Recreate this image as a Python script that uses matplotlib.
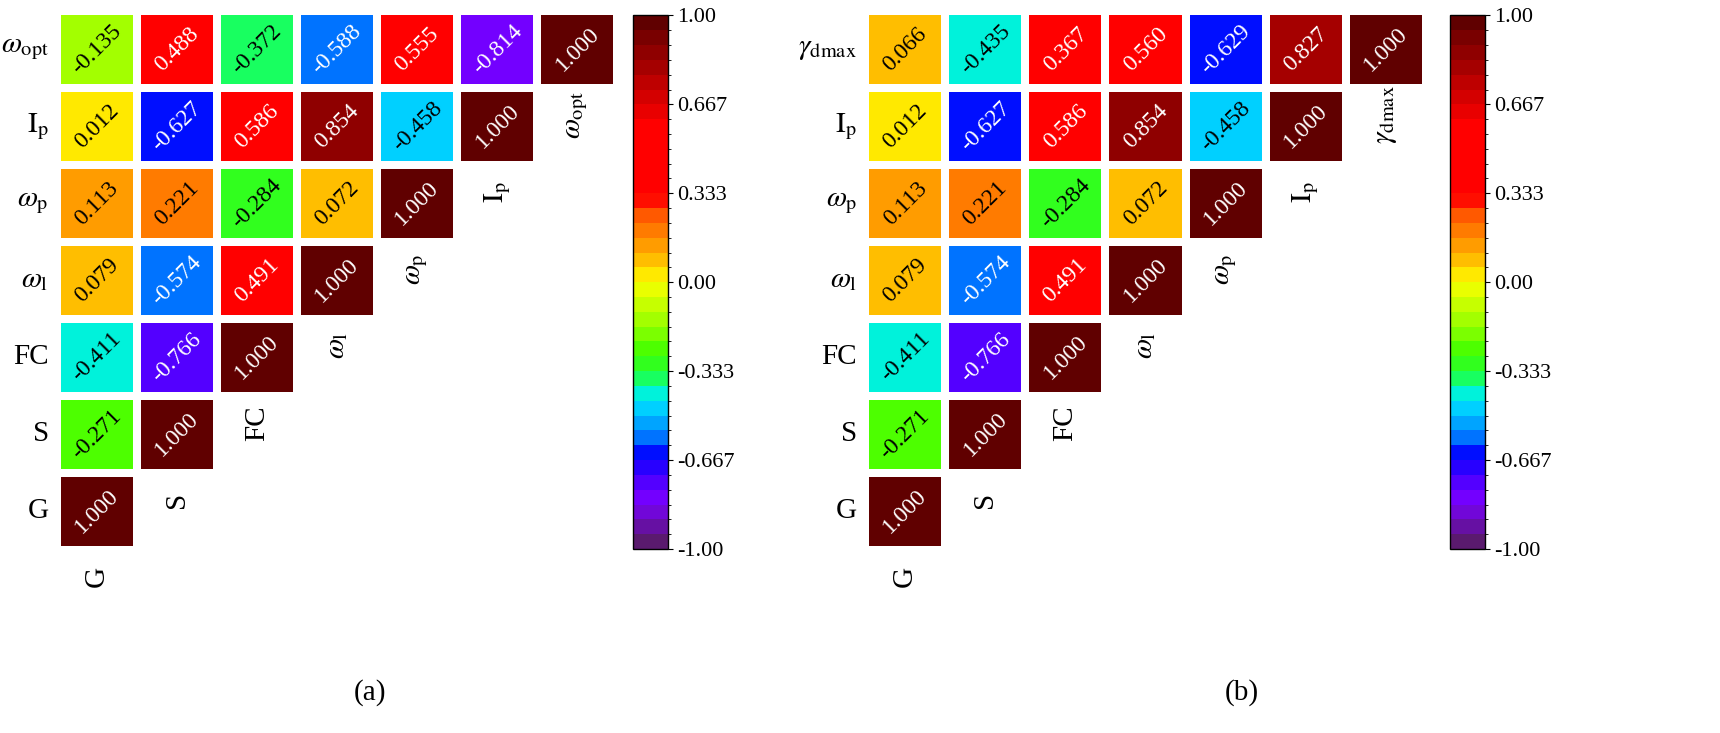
import matplotlib
matplotlib.use("Agg")
import matplotlib.pyplot as plt
import numpy as np
from matplotlib.colors import LinearSegmentedColormap, BoundaryNorm
from matplotlib.patches import Rectangle
from matplotlib.cm import ScalarMappable

plt.rcParams["font.family"] = ["Liberation Serif", "DejaVu Serif"]
plt.rcParams["mathtext.fontset"] = "stix"

labels_a = [r"$\omega_{\mathrm{opt}}$", r"$\mathrm{I_p}$", r"$\omega_{\mathrm{p}}$",
            r"$\omega_{\mathrm{l}}$", "FC", "S", "G"]
labels_b = [r"$\gamma_{\mathrm{dmax}}$", r"$\mathrm{I_p}$", r"$\omega_{\mathrm{p}}$",
            r"$\omega_{\mathrm{l}}$", "FC", "S", "G"]

common_rows = [
    [0.012, -0.627, 0.586, 0.854, -0.458, 1.000],
    [0.113, 0.221, -0.284, 0.072, 1.000],
    [0.079, -0.574, 0.491, 1.000],
    [-0.411, -0.766, 1.000],
    [-0.271, 1.000],
    [1.000],
]
top_a = [-0.135, 0.488, -0.372, -0.588, 0.555, -0.814, 1.000]
top_b = [0.066, -0.435, 0.367, 0.560, -0.629, 0.827, 1.000]

anchors = [
    (0.00, "#5a1a6e"), (0.075, "#7a00ff"), (0.117, "#5000ff"), (0.165, "#0000ff"),
    (0.19, "#0060ff"), (0.215, "#0090ff"), (0.265, "#00e0ff"), (0.295, "#00ffc0"),
    (0.32, "#20ff40"), (0.36, "#40ff00"), (0.425, "#a0ff00"),
    (0.50, "#ffff00"), (0.55, "#ffb000"), (0.625, "#ff6000"), (0.66, "#ff0000"),
    (0.80, "#ff0000"), (0.90, "#b00000"), (1.00, "#600000"),
]
cmap = LinearSegmentedColormap.from_list("corr", anchors)
bounds = np.linspace(-1, 1, 37)
norm = BoundaryNorm(bounds, cmap.N)

fig = plt.figure(figsize=(17.2, 7.33), dpi=100)


def panel(left, cb_left, labels, top_row, caption, cap_x):
    ax = fig.add_axes([left, 0.25, 0.326, 0.735])
    rows = [top_row] + common_rows
    n = len(labels)
    for i, row in enumerate(rows):
        for j, v in enumerate(row):
            ax.add_patch(Rectangle((j - 0.45, i - 0.45), 0.9, 0.9,
                                   facecolor=cmap(norm(v)), edgecolor="none"))
            tc = "white" if (v > 0.3 or v < -0.5) else "black"
            ax.text(j, i, f"{v:.3f}", ha="center", va="center", rotation=45,
                    fontsize=17, color=tc)
        ax.text(-0.6, i, labels[i], ha="right", va="center", fontsize=21)
        ax.text(n - 1 - i, i + 0.85, labels[i], ha="center", va="center",
                rotation=90, fontsize=21, clip_on=False)
    ax.set_xlim(-0.5, n - 0.5)
    ax.set_ylim(n - 0.5, -0.5)
    ax.axis("off")
    fig.text(cap_x, 0.055, caption, ha="center", va="center", fontsize=21)

    cax = fig.add_axes([cb_left, 0.251, 0.0203, 0.728])
    cb = fig.colorbar(ScalarMappable(norm=norm, cmap=cmap), cax=cax,
                      ticks=[-1, -0.667, -0.333, 0, 0.333, 0.667, 1])
    cb.ax.set_yticklabels(["-1.00", "-0.667", "-0.333", "0.00", "0.333", "0.667", "1.00"])
    cb.ax.tick_params(labelsize=16)
    cb.outline.set_linewidth(1)


panel(0.033, 0.368, labels_a, top_a, "(a)", 0.215)
panel(0.503, 0.843, labels_b, top_b, "(b)", 0.722)

fig.savefig("out.png", dpi=100)
